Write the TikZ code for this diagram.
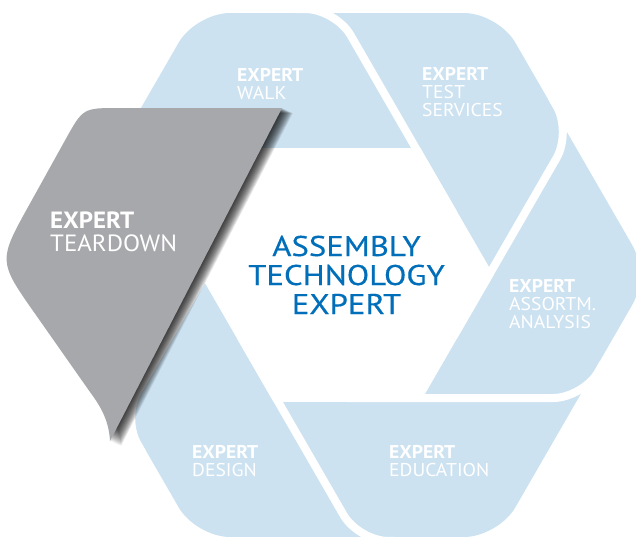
\documentclass[tikz,border=0pt]{standalone}
\usepackage{fontspec}
\setmainfont{PT Sans}[FakeStretch=1.06]
\newfontfamily\hubfont{PT Sans}[FakeStretch=1.15, FakeBold=0.4]
\definecolor{ringblue}{RGB}{204,226,241}
\definecolor{teargray}{RGB}{167,168,172}
\definecolor{hubblue}{RGB}{0,110,185}
\tikzset{
  piecetext/.style={anchor=base west, inner sep=0pt, align=left, text=white,
    font=\fontsize{18.5}{17.6}\selectfont},
  gapband/.style={draw=white, line width=8pt, rounded corners=30pt},
}
\begin{document}
\begin{tikzpicture}[x=1pt,y=-1pt]
\useasboundingbox (0,0) rectangle (636,536);
\clip (0,0) rectangle (636,536);

\def\teardownpath{(282,108) -- (119,108) .. controls (83,108) .. (65.5,139.5)
  -- (29.6,204.2) .. controls (-2,261) .. (35.4,314.2)
  -- (90,392) .. controls (102,408) and (109,422) .. (110,441) -- cycle}

\begin{scope}[shift={(347,275)}, yscale=-1]
% outer ring and white hub
\fill[ringblue, rounded corners=34pt] (270:262) -- (300:302.5) -- (0:302.5) -- (60:302.5)
  -- (120:302.5) -- (180:302.5) -- (240:302.5) -- cycle;
\fill[white] (0:146.6) -- (60:146.6) -- (120:146.6) -- (180:146.6) -- (240:146.6) -- (300:146.6) -- cycle;
% empty slot of the lifted piece
\fill[white, rounded corners=30pt] (150:123) -- (-224.6,-143) -- (-184.6,-212.3)
  -- (-236.6,-242.3) -- (-420,0) -- (-420,123) -- (0,123) -- cycle;
% gaps between the pieces
\foreach \k in {0,...,5}
  \draw[gapband, rotate=-60*\k] (0,123) -- (-236.1,123) -- (-256.1,88.4);
\end{scope}

% lifted piece with its shadow
\foreach \k in {1,...,12}
  \fill[black, opacity=0.1, shift={(\k*0.9,\k*0.42)}] \teardownpath;
\fill[teargray] \teardownpath;

% labels (anchored at the baseline of their last line)
\node[piecetext] (walk) at (237,99) {\textbf{EXPERT}\\WALK};
\node[piecetext] (test) at (422,116) {\textbf{EXPERT}\\TEST\\SERVICES};
\node[piecetext] (assort) at (509,328) {\textbf{EXPERT}\\ASSORTM.\\ANALYSIS};
\node[piecetext] (edu) at (389,476) {\textbf{EXPERT}\\EDUCATION};
\node[piecetext] (design) at (192,476) {\textbf{EXPERT}\\DESIGN};
\node[piecetext, font=\fontsize{23.5}{23}\selectfont] (tear) at (50,251) {\textbf{EXPERT}\\TEARDOWN};

\node[anchor=base, inner sep=0pt, align=center, text=hubblue,
  font=\hubfont\fontsize{28.5}{29}\selectfont] (hub) at (346.5,314) {ASSEMBLY\\TECHNOLOGY\\EXPERT};
\end{tikzpicture}
\end{document}
